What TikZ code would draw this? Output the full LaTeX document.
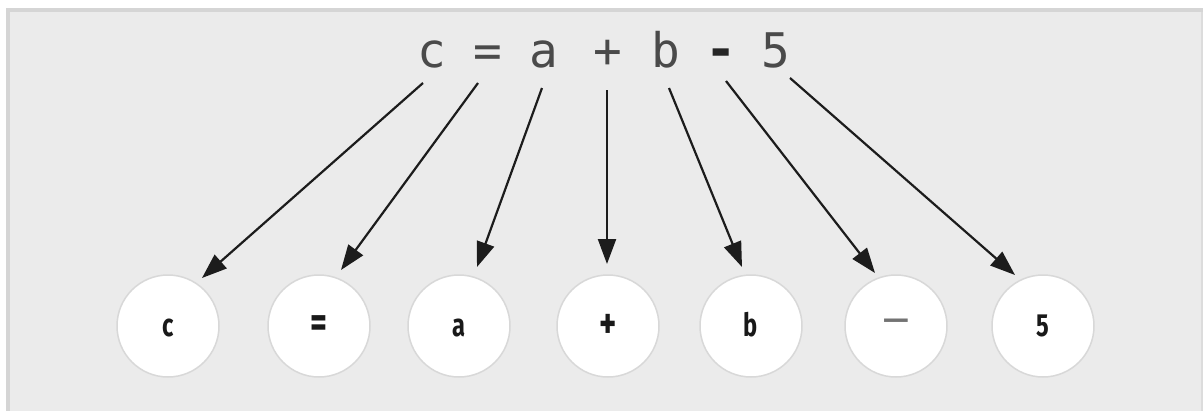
\documentclass[tikz,border=0pt]{standalone}
\usepackage{fontspec}
\usetikzlibrary{arrows.meta}
\newfontfamily\codefont{DejaVu Sans Mono}
\newfontfamily\labfont{Fira Sans}[FakeStretch=0.74]
\definecolor{panel}{HTML}{EBEBEB}
\definecolor{rim}{HTML}{D5D5D5}
\definecolor{circrim}{HTML}{D8D8D8}
\definecolor{codecol}{HTML}{4A4A4A}
\definecolor{arrcol}{HTML}{1C1C1C}
\begin{document}
\begin{tikzpicture}[x=1pt,y=-1pt,
  tok/.style={font=\codefont\fontsize{47.7}{50}\selectfont, text=codecol, anchor=base, inner sep=0pt},
  ball/.style={circle, minimum size=102pt, inner sep=0pt, fill=white, draw=circrim, line width=1.5pt},
  lab/.style={font=\labfont\bfseries\fontsize{32}{34}\selectfont, text=black!90, anchor=base, inner sep=0pt},
  biglab/.style={lab, font=\labfont\bfseries\fontsize{44}{46}\selectfont, anchor=center},
  arr/.style={draw=arrcol, line width=2.2pt, -{Triangle[length=25pt,width=18pt]}, arrcol}]
\useasboundingbox (0,0) rectangle (1203,410);
\fill[white] (0,0) rectangle (1203,410);
\fill[panel] (6,8) rectangle (1203,412);
\fill[rim] (6,8) rectangle (1203,12);
\fill[rim] (6,8) rectangle (10,412);
\fill[rim!70!panel] (1201,12) rectangle (1203,412);
% top expression
\node[tok] (t1) at (432,67) {c};
\node[tok] (t2) at (488,67) {=};
\node[tok] (t3) at (544,67) {a};
\node[tok] (t4) at (608,67) {+};
\node[tok] (t5) at (666,67) {b};
\node[tok, font=\codefont\bfseries\fontsize{52}{54}\selectfont, text=black!85] (t6) at (721,67) {-};
\node[tok] (t7) at (776,67) {5};
% circles
\node[ball] (n1) at (168,326) {};
\node[ball] (n2) at (319,326) {};
\node[ball] (n3) at (459,326) {};
\node[ball] (n4) at (608,326) {};
\node[ball] (n5) at (751,326) {};
\node[ball] (n6) at (896,326) {};
\node[ball] (n7) at (1043,326) {};
\node[lab] (l1) at (168,336) {c};
\node[biglab] (l2) at (319,327) {=};
\node[lab] (l3) at (459,336) {a};
\node[biglab] (l4) at (608,326) {+};
\node[lab] (l5) at (751,336) {b};
\node[biglab, font=\labfont\mdseries\fontsize{44}{46}\selectfont, text=black!55] (l6) at (896,327) {\textemdash};
\node[lab] (l7) at (1043,336) {5};
% arrow ends
\coordinate (s1) at (423,83);  \coordinate (e1) at (202,278);
\coordinate (s2) at (478,83);  \coordinate (e2) at (341,270);
\coordinate (s3) at (542,88);  \coordinate (e3) at (477,267);
\coordinate (s4) at (607,90);  \coordinate (e4) at (607,264);
\coordinate (s5) at (669,88);  \coordinate (e5) at (742,267);
\coordinate (s6) at (726,81);  \coordinate (e6) at (875,273);
\coordinate (s7) at (790,78);  \coordinate (e7) at (1015,275);
\foreach \i in {1,...,7} {\draw[arr] (s\i) -- (e\i);}
\end{tikzpicture}
\end{document}
